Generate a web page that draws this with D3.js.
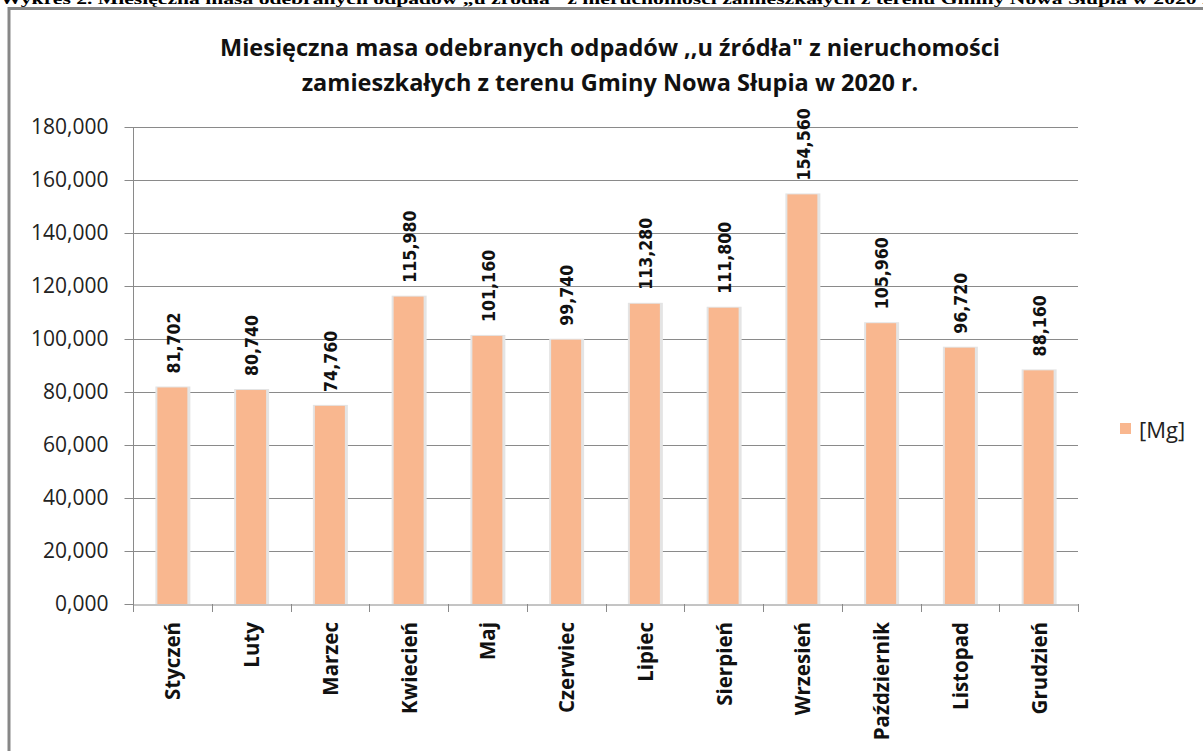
<!DOCTYPE html>
<html><head><meta charset="utf-8">
<script src="https://cdn.jsdelivr.net/npm/d3@7"></script>
<style>body{margin:0;background:#fff;overflow:hidden}svg{display:block}</style>
</head><body>
<script>
const months = ["Styczeń","Luty","Marzec","Kwiecień","Maj","Czerwiec","Lipiec","Sierpień","Wrzesień","Październik","Listopad","Grudzień"];
const values = [81.702, 80.740, 74.760, 115.980, 101.160, 99.740, 113.280, 111.800, 154.560, 105.960, 96.720, 88.160];
const yTicks = [0, 20, 40, 60, 80, 100, 120, 140, 160, 180];
const seriesName = "[Mg]";
const titleLines = ["Miesięczna masa odebranych odpadów ,,u źródła\" z nieruchomości", "zamieszkałych z terenu Gminy Nowa Słupia w 2020 r."];
const caption = "Wykres 2. Miesięczna masa odebranych odpadów „u źródła\" z nieruchomości zamieszkałych z terenu Gminy Nowa Słupia w 2020 r.";

const W = 1203, H = 751;
const fmt = v => d3.format(".3f")(v).replace(".", ",");
const fmtTick = v => d3.format(",.3f")(v).replace(".", ",");
const svg = d3.select("body").append("svg").attr("width", W).attr("height", H);

// caption clipped at top
svg.append("text").attr("x", 0).attr("y", 4)
  .attr("font-family", "Liberation Serif").attr("font-weight", "bold").attr("font-size", 14)
  .attr("textLength", 1215).attr("lengthAdjust", "spacingAndGlyphs")
  .attr("fill", "#000").text(caption);

// frame
svg.append("path").attr("d", `M9,${H+5} V8.5 H${W+5}`).attr("fill", "none").attr("stroke", "#878787").attr("stroke-width", 3);

const m = {l: 133, r: 1078, t: 127, b: 604};
const x = d3.scaleBand().domain(months).range([m.l, m.r]);
const y = d3.scaleLinear().domain([0, 180]).range([m.b, m.t]);

// gridlines
svg.append("g").selectAll("line").data(yTicks.filter(d => d > 0)).join("line")
  .attr("x1", m.l).attr("x2", m.r).attr("y1", d => Math.round(y(d)) + 0.5).attr("y2", d => Math.round(y(d)) + 0.5)
  .attr("stroke", "#8a8a8a").attr("stroke-width", 1);

// y axis
const yAxis = svg.append("g").attr("transform", `translate(${m.l + 0.5},0)`)
  .call(d3.axisLeft(y).tickValues(yTicks).tickFormat(fmtTick).tickSize(9).tickPadding(16));
yAxis.select(".domain").attr("stroke", "#8a8a8a").attr("d", `M0,${m.t} V${m.b + 7}`);
yAxis.selectAll(".tick line").attr("stroke", "#8a8a8a");
yAxis.selectAll(".tick text").attr("font-family", "Open Sans").attr("font-size", 21).attr("fill", "#222");
yAxis.selectAll(".tick").attr("transform", d => `translate(0,${Math.round(y(d)) + 0.5})`);

// x axis
const xAxis = svg.append("g").attr("transform", `translate(0,${m.b + 0.5})`)
  .call(d3.axisBottom(x).tickSize(0).tickFormat(""));
xAxis.select(".domain").attr("stroke", "#8a8a8a");
svg.append("g").selectAll("line").data(d3.range(months.length + 1)).join("line")
  .attr("x1", i => Math.round(m.l + i * x.step()) + 0.5).attr("x2", i => Math.round(m.l + i * x.step()) + 0.5)
  .attr("y1", m.b).attr("y2", m.b + 8).attr("stroke", "#8a8a8a");

// category labels
svg.append("g").selectAll("text").data(months).join("text")
  .attr("transform", d => `translate(${x(d) + x.bandwidth() / 2},622) rotate(-90)`)
  .attr("text-anchor", "end").attr("dominant-baseline", "central")
  .attr("font-family", "Open Sans").attr("font-weight", "bold").attr("font-size", 20.5).attr("fill", "#111")
  .text(d => d);

// bars
const bw = 30;
const bars = svg.append("g");
bars.selectAll("rect.sh").data(values).join("rect").attr("class", "sh")
  .attr("x", (d, i) => x(months[i]) + x.bandwidth() / 2 - bw / 2 - 2).attr("y", d => y(d) - 1)
  .attr("width", bw + 5).attr("height", d => m.b - y(d) + 1)
  .attr("fill", "#e4e4e4");
bars.selectAll("rect.b").data(values).join("rect").attr("class", "b")
  .attr("x", (d, i) => x(months[i]) + x.bandwidth() / 2 - bw / 2).attr("y", d => y(d))
  .attr("width", bw).attr("height", d => m.b - y(d))
  .attr("fill", "#f9b78f");

// value labels
svg.append("g").selectAll("text").data(values).join("text")
  .attr("transform", (d, i) => `translate(${x(months[i]) + x.bandwidth() / 2 + 1},${y(d) - 14}) rotate(-90) scale(0.88,1)`)
  .attr("text-anchor", "start").attr("dominant-baseline", "central")
  .attr("font-family", "DejaVu Sans")
  .attr("font-weight", "bold").attr("font-size", 18).attr("fill", "#111")
  .text(d => fmt(d));

// title
svg.append("g").selectAll("text").data(titleLines).join("text")
  .attr("x", 610).attr("y", (d, i) => 56 + i * 35).attr("text-anchor", "middle")
  .attr("font-family", "Open Sans").attr("font-weight", "bold").attr("font-size", 23.5).attr("fill", "#111")
  .text(d => d);

// legend
svg.append("rect").attr("x", 1120).attr("y", 423).attr("width", 11).attr("height", 11).attr("fill", "#f9b78f");
svg.append("text").attr("x", 1139).attr("y", 429).attr("dominant-baseline", "central")
  .attr("font-family", "Open Sans").attr("font-size", 22).attr("fill", "#222").text(seriesName);
</script>
</body></html>
